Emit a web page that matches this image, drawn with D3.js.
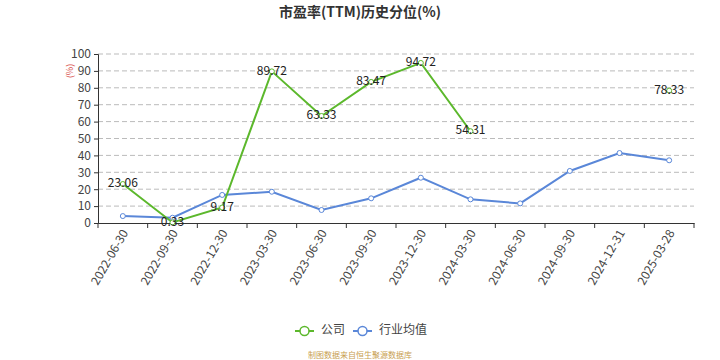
<!DOCTYPE html>
<html><head><meta charset="utf-8">
<script src="https://cdn.jsdelivr.net/npm/d3@7/dist/d3.min.js"></script>
<style>body{margin:0;background:#fff}svg{display:block}</style>
</head><body><svg id="c" width="720" height="360"></svg>
<script>
const categories = ["2022-06-30","2022-09-30","2022-12-30","2023-03-30","2023-06-30","2023-09-30","2023-12-30","2024-03-30","2024-06-30","2024-09-30","2024-12-31","2025-03-28"];
const companyValues = [23.06,0.33,9.17,89.72,63.33,83.47,94.72,54.31,null,null,null,78.33];
const industryValues = [4.1,3.1,16.6,18.5,7.7,14.6,26.8,14.0,11.6,30.8,41.4,37.1];
const yTicks = [0,10,20,30,40,50,60,70,80,90,100];
const seriesNames = ["公司","行业均值"];

const font = "'Noto Sans CJK SC','Open Sans',sans-serif";
const svg = d3.select("#c");
const green = "#5cb82c", blue = "#5a87d8";
const x = d3.scaleBand().domain(categories).range([98,694]);
const y = d3.scaleLinear().domain([0,100]).range([223,54]);

svg.append("text").attr("x",360).attr("y",17).attr("text-anchor","middle")
  .attr("font-family",font).attr("font-size",14).attr("font-weight","bold").attr("fill","#333")
  .text("市盈率(TTM)历史分位(%)");

// grid
svg.append("g").selectAll("line").data(yTicks.filter(d=>d>0)).join("line")
  .attr("x1",98).attr("x2",694).attr("y1",d=>y(d)).attr("y2",d=>y(d))
  .attr("stroke","#bbb").attr("stroke-dasharray","5,3");

const ya = svg.append("g").attr("transform","translate(98,0)")
  .call(d3.axisLeft(y).tickValues(yTicks).tickSize(4).tickPadding(3));
ya.select(".domain").attr("stroke","#333").attr("d","M-4,223.5H0.5V54.5H-4");
ya.selectAll(".tick line").attr("stroke","#333");
ya.selectAll("text").attr("font-family",font).attr("font-size",12).attr("fill","#444");

svg.append("text").attr("transform","translate(71,71) rotate(-90)").attr("text-anchor","middle")
  .attr("dominant-baseline","middle")
  .attr("font-family",font).attr("font-size",9).attr("fill","#d9534f").text("(%)");

const xa = svg.append("g").attr("transform","translate(0,223)")
  .call(d3.axisBottom(x).tickSize(0).tickPadding(0));
xa.select(".domain").attr("stroke","#333");
xa.selectAll(".bt").data(categories.concat([null])).join("line").attr("class","bt")
  .attr("x1",(d,i)=>98+i*x.step()).attr("x2",(d,i)=>98+i*x.step())
  .attr("y1",0).attr("y2",5).attr("stroke","#333");
xa.selectAll(".tick text").attr("font-family",font).attr("font-size",12).attr("fill","#444")
  .attr("text-anchor","end").attr("dy",null)
  .attr("transform","translate(3,8) rotate(-60)").attr("dominant-baseline","middle");

const cx = d=>x(d)+x.bandwidth()/2;

function drawSeries(vals,color){
  const data = categories.map((c,i)=>({c,v:vals[i]}));
  const line = d3.line().defined(d=>d.v!=null).x(d=>cx(d.c)).y(d=>y(d.v));
  svg.append("path").datum(data).attr("d",line).attr("fill","none").attr("stroke",color).attr("stroke-width",2);
  svg.append("g").selectAll("circle").data(data.filter(d=>d.v!=null)).join("circle")
    .attr("cx",d=>cx(d.c)).attr("cy",d=>y(d.v)).attr("r",2.5)
    .attr("fill","#fff").attr("stroke",color).attr("stroke-width",1);
  return data;
}
drawSeries(industryValues,blue);
const cd = drawSeries(companyValues,green);
svg.append("g").selectAll("text").data(cd.filter(d=>d.v!=null)).join("text")
  .attr("x",d=>cx(d.c)).attr("y",d=>y(d.v)).attr("text-anchor","middle").attr("dominant-baseline","middle")
  .attr("font-family",font).attr("font-size",12).attr("fill","#222").text(d=>d.v.toFixed(2));

// legend
const lg = svg.append("g");
const items = [{n:seriesNames[0],c:green,x:295},{n:seriesNames[1],c:blue,x:353}];
items.forEach(it=>{
  lg.append("line").attr("x1",it.x).attr("x2",it.x+19).attr("y1",331).attr("y2",331).attr("stroke",it.c).attr("stroke-width",2);
  lg.append("circle").attr("cx",it.x+9.5).attr("cy",331).attr("r",4.5).attr("fill","#fff").attr("stroke",it.c).attr("stroke-width",1.5);
  lg.append("text").attr("x",it.x+26).attr("y",331).attr("dominant-baseline","middle")
    .attr("font-family",font).attr("font-size",12).attr("fill","#444").text(it.n);
});
svg.append("text").attr("x",360).attr("y",356).attr("text-anchor","middle").attr("dominant-baseline","middle")
  .attr("font-family",font).attr("font-size",8).attr("fill","#c8a050").text("制图数据来自恒生聚源数据库");
</script></body></html>
